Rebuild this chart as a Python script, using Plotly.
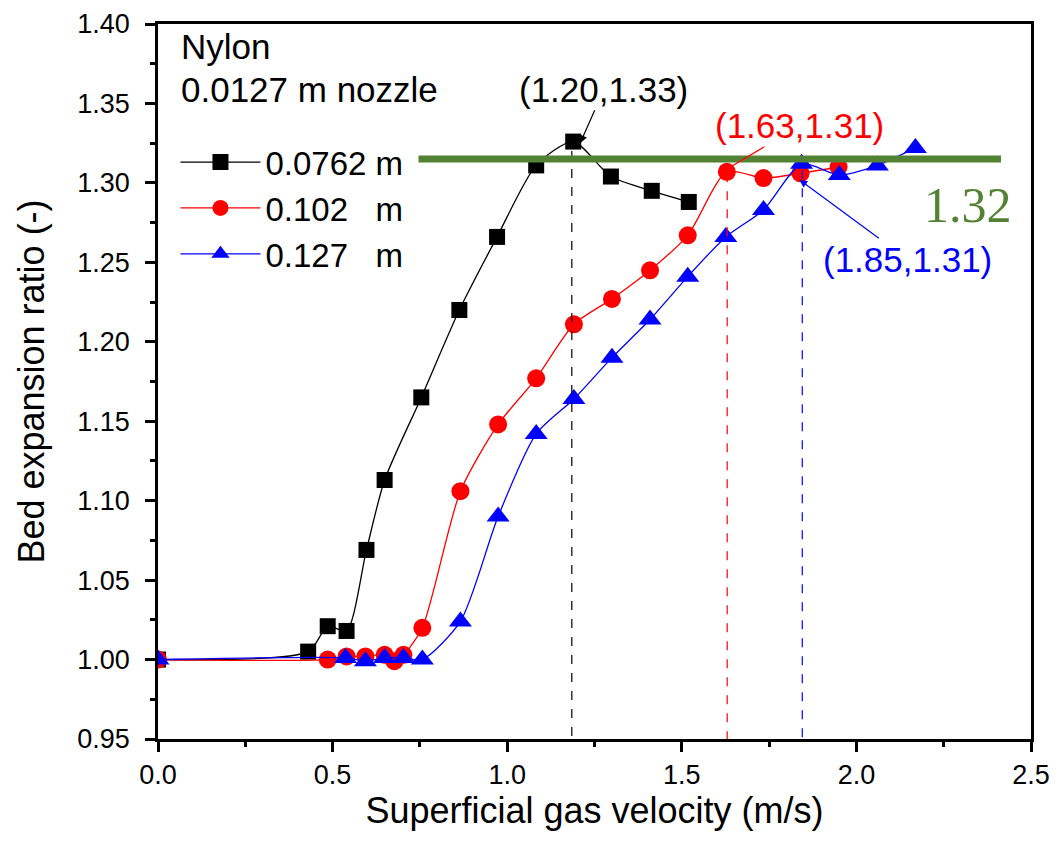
import plotly.graph_objects as go

# bed expansion data
x_0762 = [0.0, 0.43, 0.486, 0.54, 0.597, 0.649, 0.754, 0.863, 0.971, 1.083, 1.189, 1.297, 1.414, 1.52]
y_0762 = [1.000, 1.005, 1.021, 1.018, 1.069, 1.113, 1.165, 1.220, 1.266, 1.311, 1.326, 1.304, 1.295, 1.288]

x_102 = [0.0, 0.486, 0.54, 0.594, 0.649, 0.677, 0.703, 0.757, 0.866, 0.974, 1.083, 1.191, 1.30, 1.409, 1.517, 1.629, 1.734, 1.84, 1.949]
y_102 = [1.000, 1.000, 1.002, 1.002, 1.003, 0.999, 1.003, 1.020, 1.106, 1.148, 1.177, 1.211, 1.227, 1.245, 1.267, 1.307, 1.303, 1.306, 1.310]

x_127 = [0.0, 0.537, 0.594, 0.649, 0.703, 0.757, 0.866, 0.974, 1.083, 1.191, 1.30, 1.409, 1.517, 1.626, 1.734, 1.843, 1.951, 2.06, 2.169]
y_127 = [1.000, 1.001, 0.999, 1.001, 1.001, 1.000, 1.024, 1.090, 1.142, 1.164, 1.190, 1.214, 1.241, 1.266, 1.283, 1.312, 1.305, 1.311, 1.322]

series_names = ["0.0762\u00a0m", "0.102\u00a0\u00a0\u00a0m", "0.127\u00a0\u00a0\u00a0m"]
series_colors = ["black", "red", "blue"]
series_symbols = ["square", "circle", "triangle-up"]
series_sizes = [16, 18, 20]

# reference points (dashed drop lines) and their labels
peak_x = [1.185, 1.63, 1.845]
peak_y = [1.32, 1.306, 1.308]
peak_labels = ["(1.20,1.33)", "(1.63,1.31)", "(1.85,1.31)"]
label_x = [1.277, 1.837, 2.146]
label_y = [1.359, 1.336, 1.252]
head_x = [1.209, 1.609, 1.837]
head_y = [1.325, 1.306, 1.302]

plateau_y = 1.315
plateau_x = [0.746, 2.414]
plateau_text = "1.32"

FONT = "Arial, Liberation Sans, sans-serif"
GREEN = "#548235"

fig = go.Figure()

for xs, ys, name, col, sym, sz in zip([x_0762, x_102, x_127], [y_0762, y_102, y_127],
                                     series_names, series_colors, series_symbols, series_sizes):
    fig.add_trace(go.Scatter(x=xs, y=ys, name=name, mode="lines+markers",
                             line=dict(color=col, width=1.3, shape="spline", smoothing=0.7),
                             marker=dict(symbol=sym, size=sz, color=col)))

# dashed drop lines
for px_, py_, col in zip(peak_x, peak_y, series_colors):
    fig.add_trace(go.Scatter(x=[px_, px_], y=[py_, 0.95], mode="lines", showlegend=False,
                             line=dict(color=col, width=1.2, dash="dash")))

# green plateau line
fig.add_trace(go.Scatter(x=plateau_x, y=[plateau_y, plateau_y], mode="lines", showlegend=False,
                         line=dict(color=GREEN, width=7)))

for lab, lx, ly, hx, hy, col in zip(peak_labels, label_x, label_y, head_x, head_y, series_colors):
    fig.add_annotation(x=hx, y=hy, ax=lx, ay=ly, axref="x", ayref="y", text=lab,
                       showarrow=True, arrowhead=2, arrowsize=1.3, arrowwidth=1.2,
                       arrowcolor=col, font=dict(family=FONT, size=35, color=col))

fig.add_annotation(x=2.32, y=1.286, text=plateau_text, showarrow=False,
                   font=dict(family="Liberation Serif, Times New Roman, serif", size=50, color=GREEN))

fig.add_annotation(x=0.06, y=1.386, xanchor="left", text="Nylon", showarrow=False,
                   font=dict(family=FONT, size=35, color="black"))
fig.add_annotation(x=0.06, y=1.359, xanchor="left", text="0.0127 m nozzle", showarrow=False,
                   font=dict(family=FONT, size=35, color="black"))

axis_common = dict(showline=True, linewidth=2.5, linecolor="black", mirror=True,
                   ticks="outside", ticklen=10, tickwidth=2.5, tickcolor="black",
                   showgrid=False, zeroline=False, automargin=False,
                   tickfont=dict(family=FONT, size=27, color="black"))

fig.update_xaxes(range=[0, 2.5], dtick=0.5, tickformat=".1f",
                 minor=dict(ticks="outside", ticklen=5, tickwidth=2.5, dtick=0.25, tickcolor="black"),
                 title=dict(text="Superficial gas velocity (m/s)", standoff=0,
                            font=dict(family=FONT, size=36, color="black")),
                 **axis_common)
fig.update_yaxes(range=[0.95, 1.40], dtick=0.05, tickformat=".2f", ticklabelstandoff=10,
                 minor=dict(ticks="outside", ticklen=5, tickwidth=2.5, dtick=0.025, tickcolor="black"),
                 title=dict(text="Bed expansion ratio (-)", standoff=22,
                            font=dict(family=FONT, size=36, color="black")),
                 **axis_common)

fig.update_layout(width=1058, height=848, plot_bgcolor="white", paper_bgcolor="white",
                  margin=dict(l=150, r=35, t=16, b=117),
                  legend=dict(x=0.02, y=0.846, xanchor="left", yanchor="top",
                              bgcolor="rgba(0,0,0,0)", itemwidth=80, tracegroupgap=0,
                              font=dict(family=FONT, size=33, color="black")))

fig.write_html("out.html")
